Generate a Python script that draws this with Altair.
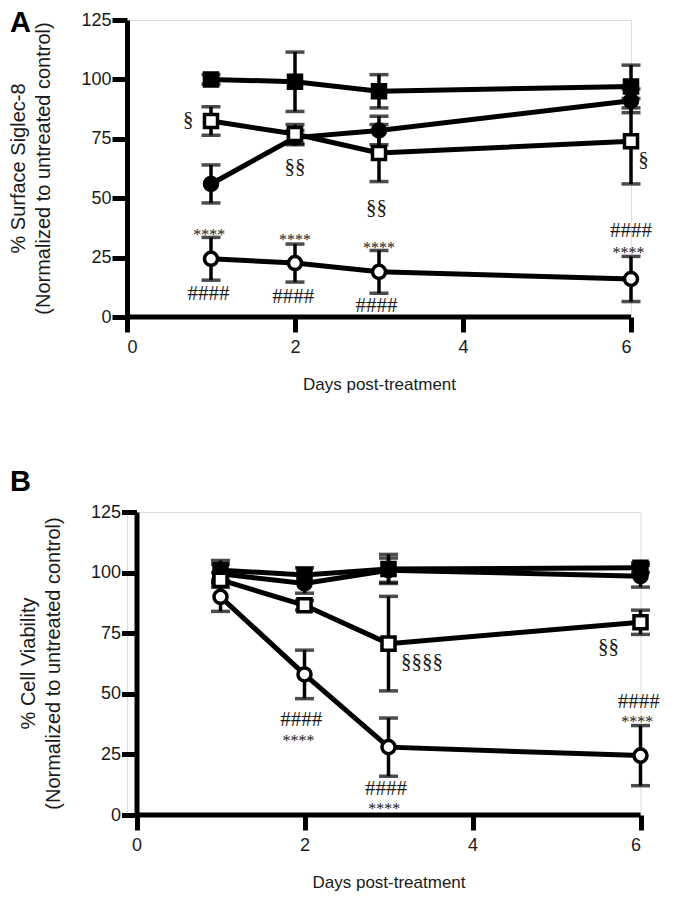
import altair as alt
import pandas as pd

days = [1, 2, 3, 6]
series_keys = ["fsq", "fci", "osq", "oci"]

# Panel A: % Surface Siglec-8
A_fsq = [100, 99, 95, 97];   A_fsq_err = [2, 12.5, 7, 9]
A_fci = [56, 75.5, 78.5, 91]; A_fci_err = [8, 3, 6, 5]
A_osq = [82.5, 77, 69, 74];  A_osq_err = [6, 4, 12, 18]
A_oci = [24.5, 22.7, 19, 16]; A_oci_err = [9, 8, 9, 9.5]

# Panel B: % Cell Viability
B_fsq = [101, 99, 101.5, 102]; B_fsq_err = [4, 3, 6, 2]
B_fci = [99.5, 95.5, 101, 98.5]; B_fci_err = [4, 4, 5, 4.5]
B_osq = [97, 86.5, 70.7, 79.5]; B_osq_err = [3, 2, 19.5, 5]
B_oci = [90, 58, 28, 24.5];    B_oci_err = [6, 10, 12, 12.4]

# annotations (x = day, y = value)
A_sym_x = [0.73, 2.0, 2.97, 6.15, 0.97, 1.98, 2.97, 6.0]
A_sym_y = [83, 63, 46, 66, 9.5, 8.3, 4.5, 36]
A_sym_t = ["§", "§§", "§§", "§", "####", "####", "####", "####"]
A_star_x = [0.98, 2.0, 3.0, 5.97]
A_star_y = [37.8, 35.8, 32.5, 30.5]
A_star_t = ["****", "****", "****", "****"]

B_sym_x = [3.4, 5.62, 1.96, 2.97, 5.98]
B_sym_y = [63, 69.5, 39, 10.7, 46.5]
B_sym_t = ["§§§§", "§§", "####", "####", "####"]
B_star_x = [1.93, 2.95, 5.96]
B_star_y = [34.0, 5.8, 41.5]
B_star_t = ["****", "****", "****"]

A_ytitle = ["% Surface Siglec-8", "(Normalized to untreated control)"]
B_ytitle = ["% Cell Viability", "(Normalized to untreated control)"]
x_title = "Days post-treatment"
x_ticks = [0, 2, 4, 6]
y_ticks = [0, 25, 50, 75, 100, 125]


def long_df(vals):
    rows = []
    for key, (m, e) in zip(series_keys, vals):
        for d, mv, ev in zip(days, m, e):
            rows.append({"series": key, "day": d, "mean": mv,
                         "lo": mv - ev, "hi": mv + ev})
    return pd.DataFrame(rows)


dfA = long_df([(A_fsq, A_fsq_err), (A_fci, A_fci_err), (A_osq, A_osq_err), (A_oci, A_oci_err)])
dfB = long_df([(B_fsq, B_fsq_err), (B_fci, B_fci_err), (B_osq, B_osq_err), (B_oci, B_oci_err)])

LAB = "Liberation Sans"
SERIF = "Liberation Serif"
INK = "#1a1a1a"


def panel(df, sx, sy, st, tx, ty, tt, ytitle, letter, letter_x, letter_y, w, h, shift):
    # shift: pixels between the plot's left edge and the y axis (day 0)
    px_per_day = (w - shift) / 6.0
    x0 = -shift / px_per_day
    xs = alt.Scale(domain=[x0, 6], nice=False, zero=False)
    ys = alt.Scale(domain=[0, 125], nice=False)
    xenc = alt.X("day:Q", scale=xs, title=x_title,
                 axis=alt.Axis(values=x_ticks, format="d", grid=False,
                               domain=False, tickWidth=5,
                               tickColor="black", tickSize=15, labelFontSize=18,
                               labelFont=LAB, labelColor=INK, labelPadding=6,
                               titleFont=LAB, titleFontSize=17, titleFontWeight="normal",
                               titleColor=INK, titlePadding=20,
                               titleX=shift + (w - shift) / 2))
    yenc = alt.Y("mean:Q", scale=ys, title=None,
                 axis=alt.Axis(values=y_ticks, grid=False, offset=-shift,
                               domainWidth=5, domainColor="black", tickWidth=5,
                               tickColor="black", tickSize=15, labelFontSize=18,
                               labelFont=LAB, labelColor=INK, labelPadding=1))
    base = alt.Chart(df)
    lines = base.mark_line(color="black", strokeWidth=5).encode(
        x=xenc, y=yenc, detail="series:N")
    xaxis_line = alt.Chart(pd.DataFrame({"a": [0], "b": [6], "y": [0]})).mark_rule(
        color="black", strokeWidth=5).encode(x="a:Q", x2="b:Q", y="y:Q")
    rules = base.mark_rule(color="black", strokeWidth=3.5).encode(
        x="day:Q", y="lo:Q", y2="hi:Q")
    cap_lo = base.mark_tick(color="black", thickness=3.5, size=19, orient="horizontal").encode(
        x="day:Q", y="lo:Q")
    cap_hi = base.mark_tick(color="black", thickness=3.5, size=19, orient="horizontal").encode(
        x="day:Q", y="hi:Q")
    pts = base.mark_point(filled=True, stroke="black", strokeWidth=3.5, opacity=1).encode(
        x="day:Q", y="mean:Q",
        shape=alt.Shape("series:N", scale=alt.Scale(domain=series_keys,
                        range=["square", "circle", "square", "circle"]), legend=None),
        fill=alt.Fill("series:N", scale=alt.Scale(domain=series_keys,
                      range=["black", "black", "white", "white"]), legend=None),
        size=alt.Size("series:N", scale=alt.Scale(domain=series_keys,
                      range=[170, 170, 210, 225]), legend=None))
    sym_df = pd.DataFrame({"x": sx, "y": sy, "t": st})
    star_df = pd.DataFrame({"x": tx, "y": ty, "t": tt})
    syms = alt.Chart(sym_df).mark_text(font=SERIF, fontSize=21, color=INK,
                                       baseline="middle").encode(
        x="x:Q", y="y:Q", text="t:N")
    stars = alt.Chart(star_df).mark_text(font=SERIF, fontSize=16, color=INK,
                                         baseline="top").encode(
        x="x:Q", y="y:Q", text="t:N")
    let = alt.Chart(pd.DataFrame({"t": [letter]})).mark_text(
        font=LAB, fontSize=29, fontWeight="bold", color="black",
        align="left", baseline="alphabetic").encode(
        x=alt.value(letter_x), y=alt.value(letter_y), text="t:N")
    yt1 = alt.Chart(pd.DataFrame({"t": [ytitle[0]]})).mark_text(
        font=LAB, fontSize=20, color=INK, angle=270, align="center",
        baseline="middle").encode(x=alt.value(shift - 108), y=alt.value(h / 2), text="t:N")
    yt2 = alt.Chart(pd.DataFrame({"t": [ytitle[1]]})).mark_text(
        font=LAB, fontSize=20, color=INK, angle=270, align="center",
        baseline="middle").encode(x=alt.value(shift - 83), y=alt.value(h / 2), text="t:N")
    return alt.layer(lines, xaxis_line, rules, cap_lo, cap_hi, pts, syms, stars,
                     let, yt1, yt2).properties(width=w, height=h)


pA = panel(dfA, A_sym_x, A_sym_y, A_sym_t, A_star_x, A_star_y, A_star_t,
           A_ytitle, "A", -117, 12, 504, 297, 0)
pB = panel(dfB, B_sym_x, B_sym_y, B_sym_t, B_star_x, B_star_y, B_star_t,
           B_ytitle, "B", -117, -21, 513.5, 303, 9.5)

chart = alt.vconcat(pA, pB, spacing=74).properties(padding=0).configure_view(
    stroke="transparent", strokeWidth=0).configure_axis(grid=False).configure(
    background="white")
chart.save("out.html", embed_options={"renderer": "svg", "actions": False})
